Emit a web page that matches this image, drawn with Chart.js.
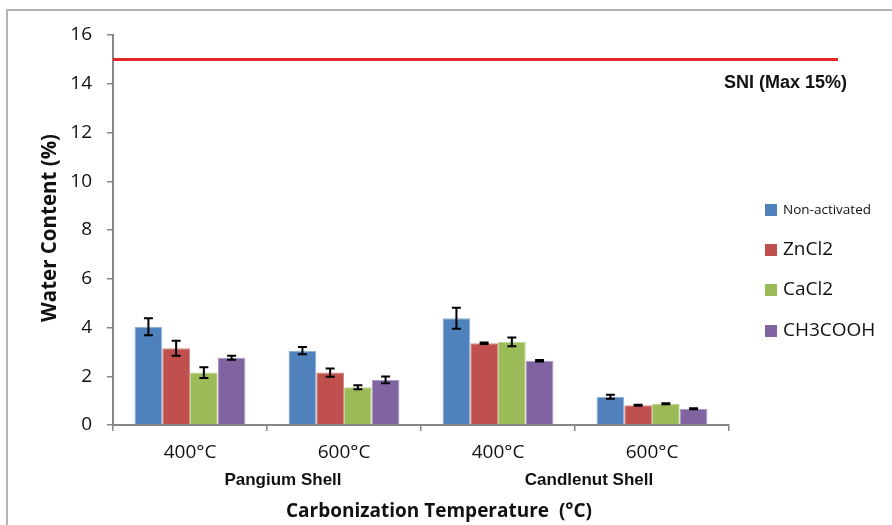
<!DOCTYPE html>
<html>
<head>
<meta charset="utf-8">
<script src="https://cdn.jsdelivr.net/npm/chart.js@4.4.1/dist/chart.umd.min.js"></script>
<style>
    html, body { margin: 0; padding: 0; background: #ffffff; }
    #wrap { width: 892px; height: 525px; position: relative; }
</style>
</head>
<body>
<div id="wrap"><canvas id="waterChart" width="892" height="525"></canvas></div>
<script>
// Chart data
const temperatures = ['400°C', '600°C', '400°C', '600°C'];
const shellGroups = ['Pangium Shell', 'Candlenut Shell'];
const seriesNames = ['Non-activated', 'ZnCl2', 'CaCl2', 'CH3COOH'];
const nonActivated = [4.03, 3.05, 4.38, 1.16];
const nonActivatedErr = [0.35, 0.15, 0.43, 0.08];
const zncl2 = [3.15, 2.15, 3.35, 0.81];
const zncl2Err = [0.31, 0.17, 0.03, 0.02];
const cacl2 = [2.15, 1.55, 3.41, 0.87];
const cacl2Err = [0.22, 0.08, 0.18, 0.02];
const ch3cooh = [2.76, 1.85, 2.64, 0.67];
const ch3coohErr = [0.08, 0.14, 0.03, 0.02];
const yTicks = [0, 2, 4, 6, 8, 10, 12, 14, 16];
const sniLimit = 15;
const sniLabel = 'SNI (Max 15%)';

const colors = ['#4f81bd', '#c0504d', '#9bbb59', '#8064a2'];
const edgeColors = ['#8fb0d8', '#d98a88', '#c0d696', '#a896c4'];
const axisGrey = '#878787';

document.addEventListener('DOMContentLoaded', function() {
    const values = [nonActivated, zncl2, cacl2, ch3cooh];
    const errors = [nonActivatedErr, zncl2Err, cacl2Err, ch3coohErr];

    // Extra drawing: frame, SNI line, error bars, group labels, titles, legend
    const extras = {
        id: 'extras',
        beforeDraw(chart) {
            const ctx = chart.ctx;
            ctx.save();
            ctx.strokeStyle = '#b3b3b3';
            ctx.lineWidth = 2;
            ctx.beginPath();
            ctx.moveTo(7, 525);
            ctx.lineTo(7, 10);
            ctx.lineTo(892, 10);
            ctx.stroke();
            ctx.restore();
        },
        afterDatasetsDraw(chart) {
            const ctx = chart.ctx;
            const y = chart.scales.y;
            const area = chart.chartArea;
            ctx.save();

            // Error bars
            ctx.strokeStyle = '#000000';
            ctx.lineWidth = 2;
            chart.data.datasets.forEach((ds, di) => {
                const meta = chart.getDatasetMeta(di);
                meta.data.forEach((bar, i) => {
                    const v = ds.data[i];
                    const e = errors[di][i];
                    const top = y.getPixelForValue(v + e);
                    const bot = y.getPixelForValue(v - e);
                    ctx.beginPath();
                    ctx.moveTo(bar.x, top);
                    ctx.lineTo(bar.x, bot);
                    ctx.moveTo(bar.x - 4.5, top);
                    ctx.lineTo(bar.x + 4.5, top);
                    ctx.moveTo(bar.x - 4.5, bot);
                    ctx.lineTo(bar.x + 4.5, bot);
                    ctx.stroke();
                });
            });

            // SNI limit line
            const ly = y.getPixelForValue(sniLimit);
            ctx.strokeStyle = '#e3262a';
            ctx.lineWidth = 3;
            ctx.beginPath();
            ctx.moveTo(area.left, ly);
            ctx.lineTo(838, ly);
            ctx.stroke();

            ctx.fillStyle = '#111111';
            ctx.font = 'bold 18px "Liberation Sans", Arial, sans-serif';
            ctx.textAlign = 'right';
            ctx.textBaseline = 'middle';
            ctx.fillText(sniLabel, 847, 83);

            // Shell group labels
            const x = chart.scales.x;
            ctx.font = 'bold 17px "Liberation Sans", Arial, sans-serif';
            ctx.textAlign = 'center';
            const g1 = (x.getPixelForValue(0) + x.getPixelForValue(1)) / 2 + 16;
            const g2 = (x.getPixelForValue(2) + x.getPixelForValue(3)) / 2 + 14;
            ctx.fillText(shellGroups[0], g1, 480);
            ctx.fillText(shellGroups[1], g2, 480);

            // Axis titles
            ctx.font = 'bold 19px "Open Sans", sans-serif';
            ctx.fillText('Carbonization Temperature  (°C)', 439, 512);
            ctx.font = 'bold 20.5px "Open Sans", sans-serif';
            ctx.save();
            ctx.translate(50, (area.top + area.bottom) / 2 - 2);
            ctx.rotate(-Math.PI / 2);
            ctx.fillText('Water Content (%)', 0, 0);
            ctx.restore();

            // Legend
            const legendY = [210, 250, 290, 331];
            ctx.textAlign = 'left';
            seriesNames.forEach((name, i) => {
                ctx.fillStyle = colors[i];
                ctx.fillRect(765, legendY[i] - 6, 12, 12);
                ctx.fillStyle = '#111111';
                ctx.font = (i === 0 ? '13.5px' : '19px') + ' "Open Sans", sans-serif';
                ctx.fillText(name, 783, legendY[i]);
            });
            ctx.restore();
        }
    };

    const ctx = document.getElementById('waterChart').getContext('2d');
    new Chart(ctx, {
        type: 'bar',
        data: {
            labels: temperatures,
            datasets: seriesNames.map((name, i) => ({
                label: name,
                data: values[i],
                backgroundColor: colors[i],
                borderColor: edgeColors[i],
                borderWidth: 1,
                barPercentage: 1,
                categoryPercentage: 0.72
            }))
        },
        options: {
            responsive: false,
            animation: false,
            layout: {
                padding: { left: 0, top: 35, right: 163, bottom: 0 }
            },
            plugins: {
                legend: { display: false },
                tooltip: { enabled: false }
            },
            scales: {
                x: {
                    grid: {
                        drawOnChartArea: false,
                        drawTicks: true,
                        tickLength: 6,
                        color: axisGrey,
                        lineWidth: 1.5
                    },
                    border: { color: axisGrey, width: 2 },
                    ticks: {
                        color: '#111111',
                        padding: 10,
                        font: { family: 'Open Sans', size: 19 }
                    },
                    afterFit: function(scale) {
                        scale.height = 100;
                    }
                },
                y: {
                    min: 0,
                    max: 16,
                    afterBuildTicks: function(scale) {
                        scale.ticks = yTicks.map(v => ({ value: v }));
                    },
                    grid: {
                        drawOnChartArea: false,
                        drawTicks: true,
                        tickLength: 6,
                        color: axisGrey,
                        lineWidth: 1.5
                    },
                    border: { color: axisGrey, width: 2 },
                    ticks: {
                        color: '#111111',
                        padding: 15,
                        font: { family: 'Open Sans', size: 19 }
                    },
                    afterFit: function(scale) {
                        scale.width = 113;
                    }
                }
            }
        },
        plugins: [extras]
    });
});
</script>
</body>
</html>
